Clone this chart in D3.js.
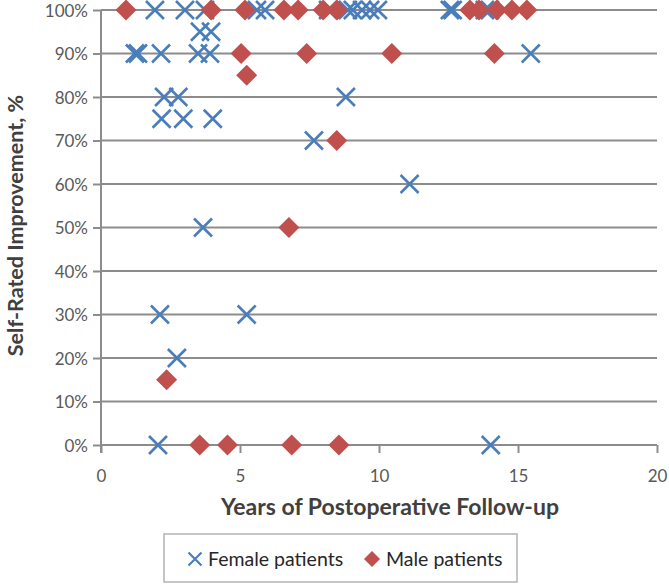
<!DOCTYPE html>
<html><head><meta charset="utf-8">
<script src="https://cdn.jsdelivr.net/npm/d3@7"></script>
<style>
html,body{margin:0;padding:0;background:#fff;}
svg{display:block;font-family:Lato,"Open Sans",sans-serif;}
</style></head>
<body><svg id="c" width="669" height="586"></svg>
<script>
// Female patients
const femaleYears = [1.94,3.02,3.74,5.61,5.90,8.17,8.88,9.06,9.39,9.68,9.96,12.55,12.65,13.81,13.99,
  3.56,3.96,
  1.22,1.33,2.16,3.49,3.92,15.46,
  2.27,2.78,8.81,
  2.18,2.96,4.02,
  7.66,11.1,3.67,2.12,5.24,2.73,2.05,14.02];
const femaleImprovement = [1,1,1,1,1,1,1,1,1,1,1,1,1,1,1,
  0.95,0.95,
  0.9,0.9,0.9,0.9,0.9,0.9,
  0.8,0.8,0.8,
  0.75,0.75,0.75,
  0.7,0.6,0.5,0.3,0.3,0.2,0,0];
// Male patients
const maleYears = [0.90,3.96,5.18,6.58,7.09,7.99,8.49,13.27,13.6,14.24,14.78,15.32,
  5.04,7.4,10.46,14.15,5.24,8.48,6.76,2.36,3.55,4.55,6.86,8.56];
const maleImprovement = [1,1,1,1,1,1,1,1,1,1,1,1,
  0.9,0.9,0.9,0.9,0.85,0.7,0.5,0.15,0,0,0,0];

const xTicks = [0,5,10,15,20];
const yTicks = [0,0.1,0.2,0.3,0.4,0.5,0.6,0.7,0.8,0.9,1];
const seriesNames = ["Female patients","Male patients"];
const xTitle = "Years of Postoperative Follow-up";
const yTitle = "Self-Rated Improvement, %";

const blue = "#4a7ebb", red = "#c0504d", grid = "#8c8c8c", txt = "#595959";
const svg = d3.select("#c");
const x = d3.scaleLinear().domain([0,20]).range([101,657]);
const y = d3.scaleLinear().domain([0,1]).range([445,10]);

// gridlines
svg.append("g").selectAll("line").data(yTicks).join("line")
  .attr("x1", x(0)).attr("x2", x(20))
  .attr("y1", d=>y(d)).attr("y2", d=>y(d))
  .attr("stroke", grid).attr("stroke-width", 2);

// y axis
const ya = svg.append("g").attr("transform",`translate(${x(0)},0)`)
  .call(d3.axisLeft(y).tickValues(yTicks).tickFormat(d3.format(".0%")).tickSize(8).tickPadding(5));
ya.select(".domain").remove();
svg.append("line").attr("x1",x(0)).attr("x2",x(0)).attr("y1",y(1)).attr("y2",y(0)+8)
  .attr("stroke",grid).attr("stroke-width",2);
// x axis
const xa = svg.append("g").attr("transform",`translate(0,${y(0)})`)
  .call(d3.axisBottom(x).tickValues(xTicks).tickSize(8).tickPadding(17));
xa.select(".domain").remove();
[ya,xa].forEach(a=>{
  a.selectAll(".tick line").attr("stroke",grid).attr("stroke-width",2);
  a.selectAll(".tick text").attr("fill",txt).style("font-size","17px").style("font-family","Lato, sans-serif");
});
ya.selectAll(".tick text").attr("dy","0.36em");

// female X markers
const xr = 9;
const fem = femaleYears.map((v,i)=>({x:v,y:femaleImprovement[i]}));
const male = maleYears.map((v,i)=>({x:v,y:maleImprovement[i]}));
const crossPath = `M${-xr},${-xr}L${xr},${xr}M${-xr},${xr}L${xr},${-xr}`;
svg.append("g").selectAll("path").data(fem).join("path")
  .attr("transform", d=>`translate(${x(d.x)},${y(d.y)})`)
  .attr("d", crossPath).attr("stroke", blue).attr("stroke-width", 2.6).attr("fill","none");
// male diamonds
const dr = 10.5;
const diamondPath = `M0,${-dr}L${dr},0L0,${dr}L${-dr},0Z`;
svg.append("g").selectAll("path").data(male).join("path")
  .attr("transform", d=>`translate(${x(d.x)},${y(d.y)})`)
  .attr("d", diamondPath).attr("fill", red);

// axis titles
svg.append("text").attr("x", 390).attr("y", 515).attr("text-anchor","middle")
  .style("font-size","23px").style("font-weight","bold").attr("fill","#404040").text(xTitle);
svg.append("text").attr("transform",`translate(23,${(y(0)+y(1))/2 - 2}) rotate(-90)`).attr("text-anchor","middle")
  .style("font-size","21.5px").style("font-weight","bold").attr("fill","#404040").text(yTitle);

// legend
const lg = svg.append("g");
lg.append("rect").attr("x",164).attr("y",534).attr("width",353).attr("height",48)
  .attr("fill","#fff").attr("stroke","#b3b3b3").attr("stroke-width",1.5);
lg.append("path").attr("transform","translate(195,559)")
  .attr("d",`M-6.5,-6.5L6.5,6.5M-6.5,6.5L6.5,-6.5`).attr("stroke",blue).attr("stroke-width",2.2);
lg.append("text").attr("x",208).attr("y",566).style("font-size","19.5px").attr("fill","#262626").text(seriesNames[0]);
lg.append("path").attr("transform","translate(372,559)")
  .attr("d",`M0,-8L8,0L0,8L-8,0Z`).attr("fill",red);
lg.append("text").attr("x",386).attr("y",566).style("font-size","19.5px").attr("fill","#262626").text(seriesNames[1]);
</script></body></html>
